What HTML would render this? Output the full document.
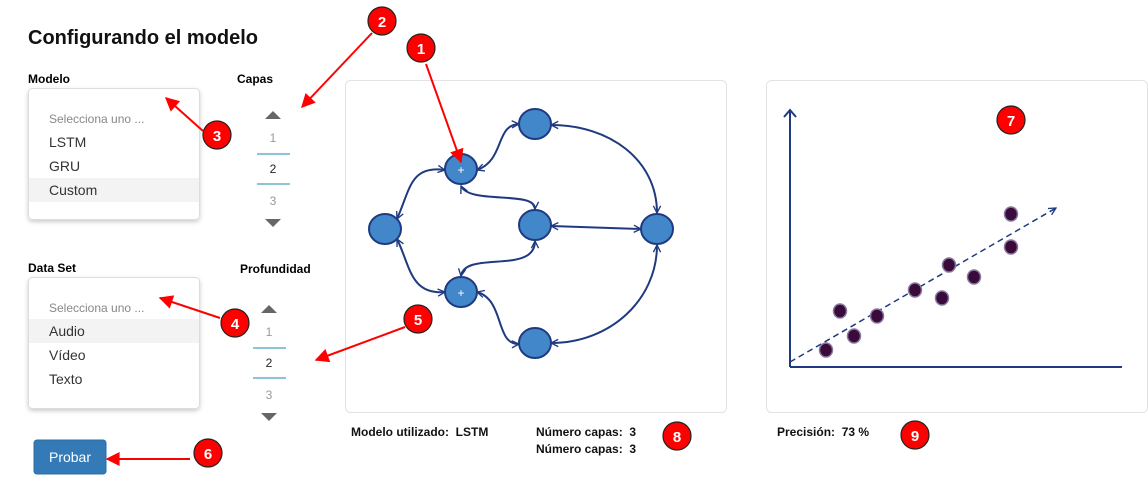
<!DOCTYPE html>
<html><head><meta charset="utf-8"><style>
body{margin:0;background:#fff;width:1148px;height:492px;overflow:hidden;font-family:"Liberation Sans",sans-serif;}
text{white-space:pre;}
</style></head><body>
<svg width="1148" height="492" xmlns="http://www.w3.org/2000/svg" font-family="Liberation Sans, sans-serif">
<defs>
<marker id="ch" viewBox="0 0 10 10" refX="9" refY="5" markerWidth="9" markerHeight="9" orient="auto-start-reverse" markerUnits="userSpaceOnUse"><path d="M1,1 L9,5 L1,9" fill="none" stroke="#1f3a80" stroke-width="1.5"/></marker>
<marker id="ra" viewBox="0 0 10 10" refX="9" refY="5" markerWidth="20" markerHeight="14" orient="auto" markerUnits="userSpaceOnUse"><path d="M0,0 L10,5 L0,10 z" fill="#f00"/></marker>
<marker id="da" viewBox="0 0 10 10" refX="9" refY="5" markerWidth="9" markerHeight="9" orient="auto" markerUnits="userSpaceOnUse"><path d="M1,1 L9,5 L1,9" fill="none" stroke="#1f3a80" stroke-width="1.5"/></marker>
<filter id="sh" x="-10%" y="-10%" width="120%" height="130%"><feDropShadow dx="0" dy="2" stdDeviation="2" flood-opacity="0.2"/></filter>
</defs>
<text x="28" y="44" font-size="20" font-weight="bold" fill="#111">Configurando el modelo</text>
<text x="28" y="83" font-size="12" font-weight="bold">Modelo</text>
<text x="237" y="83" font-size="12" font-weight="bold">Capas</text>
<text x="28" y="272" font-size="12" font-weight="bold">Data Set</text>
<text x="240" y="273" font-size="12" font-weight="bold">Profundidad</text>
<rect x="28.5" y="88.5" width="171" height="131" rx="4" fill="#fff" stroke="#ddd" filter="url(#sh)"/>
<rect x="29" y="178" width="170" height="24" fill="#f3f3f3"/>
<text x="49" y="123" font-size="12" fill="#888">Selecciona uno ...</text>
<text x="49" y="147" font-size="14" fill="#333">LSTM</text>
<text x="49" y="171" font-size="14" fill="#333">GRU</text>
<text x="49" y="195" font-size="14" fill="#333">Custom</text>
<rect x="28.5" y="277.5" width="171" height="131" rx="4" fill="#fff" stroke="#ddd" filter="url(#sh)"/>
<rect x="29" y="319" width="170" height="24" fill="#f3f3f3"/>
<text x="49" y="312" font-size="12" fill="#888">Selecciona uno ...</text>
<text x="49" y="336" font-size="14" fill="#333">Audio</text>
<text x="49" y="360" font-size="14" fill="#333">Vídeo</text>
<text x="49" y="384" font-size="14" fill="#333">Texto</text>
<path d="M265,119 L273,111 L281,119 z" fill="#666"/>
<text x="273" y="142" font-size="12" fill="#999" text-anchor="middle">1</text>
<line x1="257" y1="154" x2="290" y2="154" stroke="#8fc4d6" stroke-width="2"/>
<text x="273" y="173" font-size="12" fill="#222" text-anchor="middle">2</text>
<line x1="257" y1="184" x2="290" y2="184" stroke="#8fc4d6" stroke-width="2"/>
<text x="273" y="205" font-size="12" fill="#999" text-anchor="middle">3</text>
<path d="M265,219 L281,219 L273,227 z" fill="#666"/>
<path d="M261,313 L269,305 L277,313 z" fill="#666"/>
<text x="269" y="336" font-size="12" fill="#999" text-anchor="middle">1</text>
<line x1="253" y1="348" x2="286" y2="348" stroke="#8fc4d6" stroke-width="2"/>
<text x="269" y="367" font-size="12" fill="#222" text-anchor="middle">2</text>
<line x1="253" y1="378" x2="286" y2="378" stroke="#8fc4d6" stroke-width="2"/>
<text x="269" y="399" font-size="12" fill="#999" text-anchor="middle">3</text>
<path d="M261,413 L277,413 L269,421 z" fill="#666"/>
<rect x="34" y="440" width="72" height="34" rx="3" fill="#337ab7" stroke="#2e6da4"/>
<text x="70" y="462" font-size="14" fill="#fff" text-anchor="middle">Probar</text>
<rect x="345.5" y="80.5" width="381" height="332" rx="5" fill="#fff" stroke="#e3e3e3"/>
<rect x="766.5" y="80.5" width="381" height="332" rx="5" fill="#fff" stroke="#e3e3e3"/>
<g fill="none" stroke="#1f3a80" stroke-width="2" marker-start="url(#ch)" marker-end="url(#ch)">
<path d="M445,170 C410,165 410,190 397,219"/>
<path d="M445,292 C410,295 410,265 397,239"/>
<path d="M477,170 C505,160 495,125 519,124"/>
<path d="M461,186 C470,205 535,190 535,209"/>
<path d="M461,276 C465,250 535,275 535,241"/>
<path d="M477,292 C505,300 495,345 519,344"/>
<path d="M551,226 L641,229"/>
<path d="M551,125 C610,125 657,160 657,213"/>
<path d="M551,343 C610,343 657,300 657,245"/>
</g>
<g fill="#4287c9" stroke="#1f3a80" stroke-width="2">
<ellipse cx="385" cy="229" rx="16" ry="15"/>
<ellipse cx="461" cy="169" rx="16" ry="15"/>
<ellipse cx="535" cy="124" rx="16" ry="15"/>
<ellipse cx="535" cy="225" rx="16" ry="15"/>
<ellipse cx="657" cy="229" rx="16" ry="15"/>
<ellipse cx="461" cy="292" rx="16" ry="15"/>
<ellipse cx="535" cy="343" rx="16" ry="15"/>
</g>
<text x="461" y="174" font-size="12" fill="#fff" text-anchor="middle">+</text>
<text x="461" y="297" font-size="12" fill="#fff" text-anchor="middle">+</text>
<g stroke="#1f3a80" stroke-width="2" fill="none">
<path d="M790,367 L790,110 M784,117 L790,110 L796,117"/>
<path d="M790,367 L1122,367"/>
<path d="M790,362 L1056,208" stroke-dasharray="6,4" stroke-width="1.5" marker-end="url(#da)"/>
</g>
<g fill="#3a0a3a" stroke="#8a7aa0" stroke-width="1.5">
<ellipse cx="826" cy="350" rx="6.5" ry="7"/><ellipse cx="840" cy="311" rx="6.5" ry="7"/>
<ellipse cx="854" cy="336" rx="6.5" ry="7"/><ellipse cx="877" cy="316" rx="6.5" ry="7"/>
<ellipse cx="915" cy="290" rx="6.5" ry="7"/><ellipse cx="942" cy="298" rx="6.5" ry="7"/>
<ellipse cx="949" cy="265" rx="6.5" ry="7"/><ellipse cx="974" cy="277" rx="6.5" ry="7"/>
<ellipse cx="1011" cy="214" rx="6.5" ry="7"/><ellipse cx="1011" cy="247" rx="6.5" ry="7"/>
</g>
<g font-size="12" font-weight="bold" fill="#111">
<text x="351" y="436">Modelo utilizado:  LSTM</text>
<text x="536" y="436">Número capas:  3</text>
<text x="536" y="453">Número capas:  3</text>
<text x="777" y="436">Precisión:  73 %</text>
</g>
<g stroke="#f00" stroke-width="2" fill="none" marker-end="url(#ra)">
<line x1="372" y1="33" x2="302" y2="107"/>
<line x1="426" y1="64" x2="461" y2="162"/>
<line x1="203" y1="131" x2="166" y2="98"/>
<line x1="220" y1="318" x2="160" y2="298"/>
<line x1="405" y1="327" x2="316" y2="360"/>
<line x1="190" y1="459" x2="107" y2="459"/>
</g>
<g fill="#f00" stroke="#222" stroke-width="1.2">
<circle cx="382" cy="21" r="14"/><circle cx="421" cy="48" r="14"/><circle cx="217" cy="135" r="14"/>
<circle cx="235" cy="323" r="14"/><circle cx="418" cy="319" r="14"/><circle cx="208" cy="453" r="14"/>
<circle cx="1011" cy="120" r="14"/><circle cx="677" cy="436" r="14"/><circle cx="915" cy="435" r="14"/>
</g>
<g fill="#fff" font-size="15" font-weight="bold" text-anchor="middle">
<text x="382" y="27">2</text><text x="421" y="54">1</text><text x="217" y="141">3</text>
<text x="235" y="329">4</text><text x="418" y="325">5</text><text x="208" y="459">6</text>
<text x="1011" y="126">7</text><text x="677" y="442">8</text><text x="915" y="441">9</text>
</g>
</svg>
</body></html>
